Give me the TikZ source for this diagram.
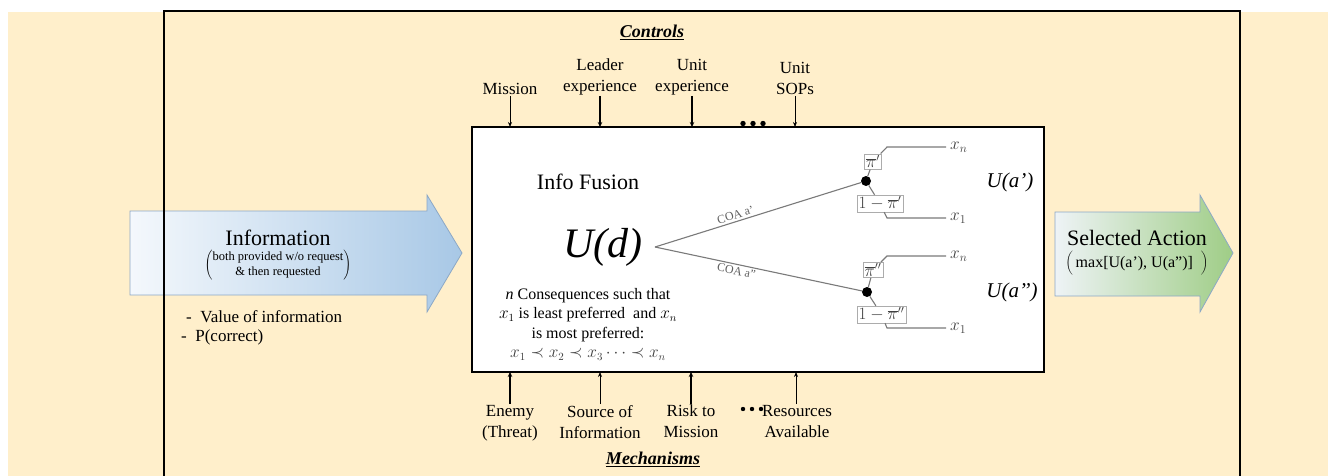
\documentclass[tikz,border=0pt]{standalone}
\usepackage{fontspec}
\setmainfont{LiberationSerif}[Extension=.ttf,UprightFont=*-Regular,BoldFont=*-Bold,ItalicFont=*-Italic,BoldItalicFont=*-BoldItalic]
\usetikzlibrary{arrows.meta}
\definecolor{cream}{HTML}{FFEFCB}
\definecolor{infoL}{HTML}{F4F8FC}
\definecolor{infoR}{HTML}{A8C8E6}
\definecolor{infoB}{HTML}{8CA8C6}
\definecolor{actL}{HTML}{EEF3F6}
\definecolor{actR}{HTML}{9FCD86}
\definecolor{treeC}{HTML}{7A7A7A}
\definecolor{mathC}{HTML}{404040}
\begin{document}
\begin{tikzpicture}[x=1pt,y=-1pt,
  lbl/.style={align=center,font=\fontsize{17}{21}\selectfont,inner sep=1pt},
  thinarr/.style={line width=0.8pt,-{Stealth[length=5pt,width=4pt]}},
  thickarr/.style={line width=1.4pt,-{Stealth[length=5pt,width=4.5pt]}},
  branch/.style={draw=treeC,line width=1.1pt},
  chance/.style={circle,fill=black,minimum size=10pt,inner sep=0pt},
  pbox/.style={draw=gray!65,fill=white,line width=0.6pt,inner sep=1.5pt,font=\fontsize{16}{18}\selectfont,text=mathC},
  leaf/.style={anchor=west,inner sep=4pt,font=\fontsize{18}{20}\selectfont,text=mathC},
  coa/.style={font=\fontsize{12}{13}\selectfont,text=gray!75!black,inner sep=2pt},
  big/.style={font=\fontsize{22}{26}\selectfont},
  head/.style={font=\fontsize{18}{20}\selectfont\bfseries\itshape}
]
\useasboundingbox (0,0) rectangle (1328,476);
\fill[cream] (8,12) rectangle (1328,476);

% Information arrow
\shade[left color=infoL,right color=infoR] (130,211) -- (427,211) -- (427,195) -- (462,253) -- (427,312) -- (427,295) -- (130,295) -- cycle;
\draw[infoB,line width=0.8pt] (130,211) -- (427,211) -- (427,195) -- (462,253) -- (427,312) -- (427,295) -- (130,295) -- cycle;
\node[big] (info) at (278,238) {Information};
\node[font=\fontsize{12.5}{15}\selectfont] (infosub) at (278,265) {$\left(\begin{tabular}{@{}c@{}}both provided w/o request\\ \& then requested\end{tabular}\right)$};
\node[anchor=west,font=\fontsize{17}{20}\selectfont,inner sep=0pt] (voi) at (186,317) {-\ \ Value of information};
\node[anchor=west,font=\fontsize{17}{20}\selectfont,inner sep=0pt] (pc) at (181,337) {-\ \ P(correct)};

% Selected action arrow
\shade[left color=actL,right color=actR] (1055,212) -- (1200,212) -- (1200,195) -- (1233,253) -- (1200,312) -- (1200,296) -- (1055,296) -- cycle;
\draw[infoB,line width=0.8pt] (1055,212) -- (1200,212) -- (1200,195) -- (1233,253) -- (1200,312) -- (1200,296) -- (1055,296) -- cycle;
\node[big] (act) at (1137,238) {Selected Action};
\node[font=\fontsize{16}{18}\selectfont] (actsub) at (1137,263) {$\bigg($\,max[U(a’), U(a”)]\ \ $\bigg)$};

% outer frame
\draw[line width=2pt] (164,478) -- (164,11) -- (1240,11) -- (1240,478);

% inner box
\node[draw,fill=white,line width=1.2pt,minimum width=572pt,minimum height=245pt,inner sep=0pt,outer sep=0pt] (box) at (758,249.5) {};

% controls
\node[head] (controls) at (652,32) {\underline{Controls}};
\node[lbl,anchor=south] (mission) at (510,96) {Mission};
\node[lbl,anchor=south] (leader) at (600,96) {Leader\\experience};
\node[lbl,anchor=south] (unitexp) at (692,96) {Unit\\experience};
\node[lbl,anchor=south] (sops) at (795,96) {Unit\\SOPs};
\draw[thinarr] (mission.south) -- (mission.south |- box.north);
\draw[thickarr] (leader.south) -- (leader.south |- box.north);
\draw[thickarr] (unitexp.south) -- (unitexp.south |- box.north);
\draw[thinarr] (sops.south) -- (sops.south |- box.north);
\foreach \x in {743,753,763} \fill (\x,123.5) circle (2.7pt);

% mechanisms
\node[lbl,anchor=north] (enemy) at (510,404) {Enemy\\(Threat)};
\node[lbl,anchor=north] (source) at (600,404) {Source of\\Information};
\node[lbl,anchor=north] (risk) at (691,404) {Risk to\\Mission};
\foreach \x in {743,752,761} \fill (\x,409) circle (2.2pt);
\node[lbl,anchor=north] (resources) at (797,404) {Resources\\Available};
\node[head] (mech) at (653,459) {\underline{Mechanisms}};
\draw[thickarr] (enemy.north) -- (enemy.north |- box.south);
\draw[thinarr] (source.north) -- (source.north |- box.south);
\draw[thickarr] (risk.north) -- (risk.north |- box.south);
\draw[thinarr] ([xshift=-1pt]resources.north) -- ([xshift=-1pt]resources.north |- box.south);

% inside
\node[big] (fusion) at (588,182) {Info Fusion};
\node[font=\fontsize{42}{48}\selectfont\itshape,inner sep=0pt] (ud) at (603,247) {U(d)};
\node[align=center,font=\fontsize{16}{19.5}\selectfont] (cons) at (588,324) {\textit{n} Consequences such that\\ $x_1$ is least preferred\ \ and $x_n$\\ is most preferred:\\ \textcolor{mathC}{$x_1 \prec x_2 \prec x_3 \cdots \prec x_n$}};

\coordinate (root) at (655,247);
\node[chance] (c1) at (866,181) {};
\node[chance] (c2) at (867,292) {};
\draw[branch] (root) -- node[coa,sloped,above,pos=0.4] {COA a’} (c1);
\draw[branch] (root) -- node[coa,sloped,below,pos=0.4] {COA a”} (c2);

\coordinate (t1) at (887,147);
\coordinate (b1) at (887,218);
\coordinate (t2) at (887,256);
\coordinate (b2) at (887,328);
\node[leaf] (xn1) at (946,147) {$x_n$};
\node[leaf] (x11) at (946,218) {$x_1$};
\node[leaf] (xn2) at (946,256) {$x_n$};
\node[leaf] (x12) at (946,328) {$x_1$};
\node[pbox] (p1) at (873,161.5) {$\overline{\pi}'$};
\node[pbox] (p2) at (880,203.5) {$1-\overline{\pi}'$};
\node[pbox] (p3) at (873,270) {$\overline{\pi}''$};
\node[pbox] (p4) at (881.5,314.5) {$1-\overline{\pi}''$};
\draw[branch] (c1) -- (p1) -- (t1) -- (xn1.west);
\draw[branch] (c1) -- (p2) -- (b1) -- (x11.west);
\draw[branch] (c2) -- (p3) -- (t2) -- (xn2.west);
\draw[branch] (c2) -- (p4) -- (b2) -- (x12.west);

\node[font=\fontsize{21}{24}\selectfont\itshape] (ua1) at (1010,182) {U(a’)};
\node[font=\fontsize{21}{24}\selectfont\itshape] (ua2) at (1012,292) {U(a’’)};
\end{tikzpicture}
\end{document}
